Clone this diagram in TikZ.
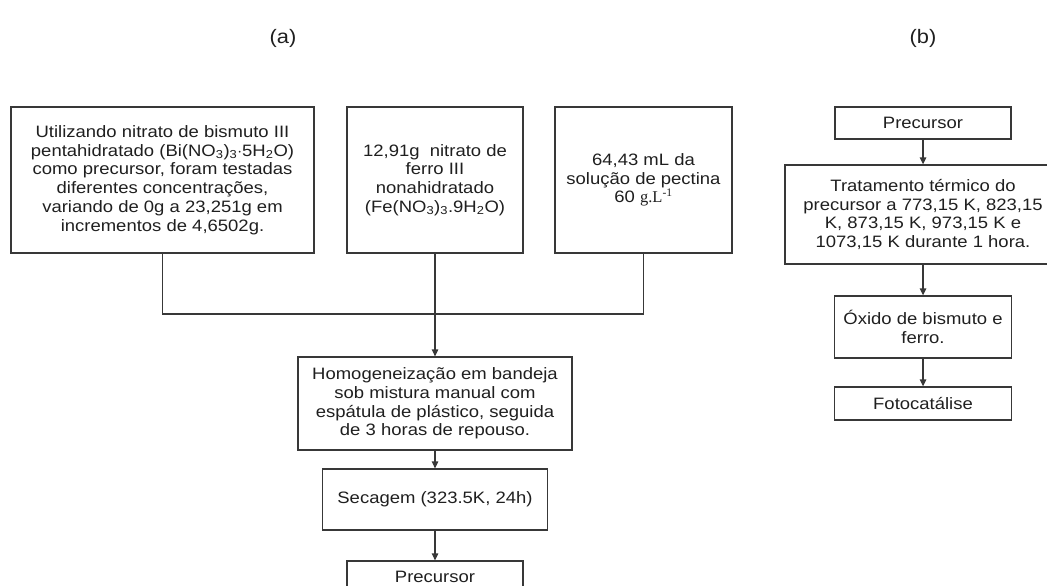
\documentclass[tikz,border=0pt]{standalone}
\usepackage{fontspec}
\setmainfont[FakeStretch=1.12]{Liberation Sans}
\newfontfamily\serifgl{Liberation Serif}
\usetikzlibrary{arrows.meta}
\begin{document}
\begin{tikzpicture}[x=1pt,y=-1pt,
  box/.style={draw=black!78,line width=1.3pt,inner sep=0pt,align=center,text=black!88,
    font=\fontsize{16.5}{18.7}\selectfont},
  conn/.style={draw=black!78,line width=1.3pt},
  arr/.style={conn,-{Triangle[length=7pt,width=6.5pt]}},
  lbl/.style={font=\fontsize{19.5}{22}\selectfont,text=black!88}]
\useasboundingbox (0,0) rectangle (1047,586);
\node[lbl] (la) at (283,38) {(a)};
\node[lbl] (lb) at (923,38) {(b)};
% (a)
\node[box,minimum width=303pt,minimum height=146pt] (b1) at (162.5,180)
 {Utilizando nitrato de bismuto III\\pentahidratado (Bi(NO\textsubscript{3})\textsubscript{3}$\cdot$5H\textsubscript{2}O)\\como precursor, foram testadas\\diferentes concentrações,\\variando de 0g a 23,251g em\\incrementos de 4,6502g.};
\node[box,minimum width=176pt,minimum height=146pt] (b2) at (435,180)
 {12,91g\ \ nitrato de\\ferro III\\nonahidratado\\(Fe(NO\textsubscript{3})\textsubscript{3}.9H\textsubscript{2}O)};
\node[box,minimum width=177pt,minimum height=146pt] (b3) at (643.5,180)
 {64,43 mL da\\solução de pectina\\60 {\serifgl g.L\textsuperscript{-1}}};
\node[box,minimum width=274pt,minimum height=93pt] (hom) at (435,403.5)
 {Homogeneização em bandeja\\sob mistura manual com\\espátula de plástico, seguida\\de 3 horas de repouso.};
\node[box,minimum width=225pt,minimum height=61pt] (sec) at (435,499.5)
 {Secagem (323.5K, 24h)};
\node[box,minimum width=176pt,minimum height=32pt] (pa) at (435,577)
 {Precursor};
\coordinate (j1) at (162.5,314);
\coordinate (j3) at (643.5,314);
\draw[conn] (b1.south) -- (j1) -- (j3) -- (b3.south);
\draw[arr] (b2.south) -- (hom.north);
\draw[arr] (hom.south) -- (sec.north);
\draw[arr] (sec.south) -- (pa.north);
% (b)
\node[box,minimum width=176pt,minimum height=32pt] (pb) at (923,123)
 {Precursor};
\node[box,minimum width=276pt,minimum height=99pt] (tt) at (923,214.5)
 {Tratamento térmico do\\precursor a 773,15 K, 823,15\\K, 873,15 K, 973,15 K e\\1073,15 K durante 1 hora.};
\node[box,minimum width=177pt,minimum height=62pt] (ox) at (923,327)
 {Óxido de bismuto e\\ferro.};
\node[box,minimum width=177pt,minimum height=33pt] (fc) at (923,403.5)
 {Fotocatálise};
\draw[arr] (pb.south) -- (tt.north);
\draw[arr] (tt.south) -- (ox.north);
\draw[arr] (ox.south) -- (fc.north);
\end{tikzpicture}
\end{document}
